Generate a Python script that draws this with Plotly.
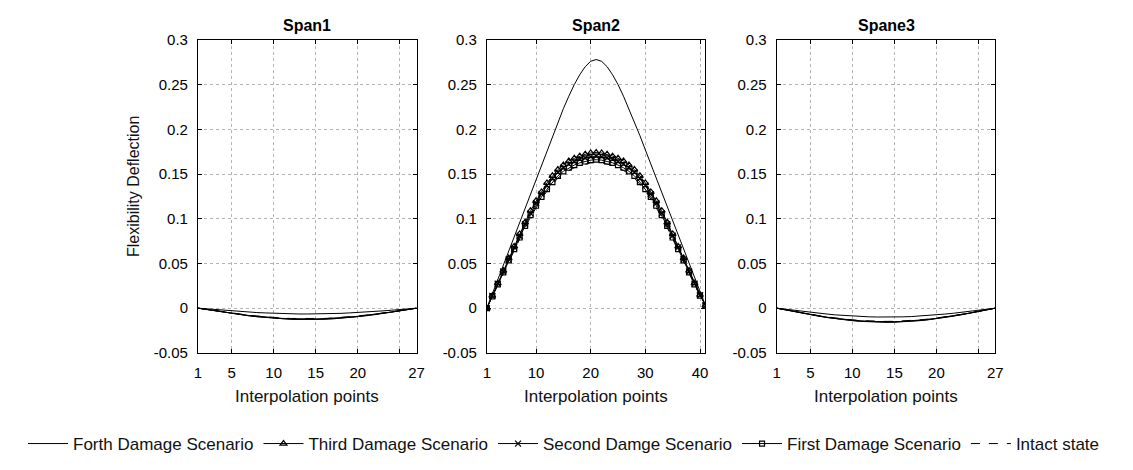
import plotly.graph_objects as go

# ---------------- data ----------------
x_span1 = list(range(1, 28))
x_span2 = list(range(1, 42))
x_span3 = list(range(1, 28))

series_names = ["Forth Damage Scenario", "Third Damage Scenario",
                "Second Damge Scenario", "First Damage Scenario", "Intact state"]

# Span2
span2_forth = [0.0, 0.016, 0.033, 0.049, 0.065, 0.081, 0.097, 0.113, 0.129, 0.145, 0.161,
               0.177, 0.193, 0.208, 0.223, 0.237, 0.250, 0.261, 0.270, 0.276, 0.278,
               0.276, 0.270, 0.261, 0.250, 0.237, 0.223, 0.208, 0.193, 0.177, 0.161,
               0.145, 0.129, 0.113, 0.097, 0.081, 0.065, 0.049, 0.033, 0.017, 0.003]
span2_third = [0.0, 0.014, 0.028, 0.042, 0.056, 0.069, 0.083, 0.096, 0.109, 0.120, 0.130,
               0.140, 0.148, 0.155, 0.160, 0.1645, 0.1675, 0.170, 0.172, 0.1735, 0.174,
               0.1735, 0.172, 0.170, 0.1675, 0.1645, 0.160, 0.155, 0.148, 0.140, 0.130,
               0.120, 0.109, 0.096, 0.083, 0.069, 0.056, 0.042, 0.028, 0.015, 0.003]
span2_second = [0.0, 0.0137, 0.0275, 0.041, 0.0545, 0.068, 0.081, 0.094, 0.106, 0.1175, 0.1275,
                0.137, 0.145, 0.152, 0.157, 0.161, 0.164, 0.1665, 0.168, 0.1695, 0.170,
                0.1695, 0.168, 0.1665, 0.164, 0.161, 0.157, 0.152, 0.145, 0.137, 0.1275,
                0.1175, 0.106, 0.094, 0.081, 0.068, 0.0545, 0.041, 0.0275, 0.0145, 0.003]
span2_first = [0.0, 0.0133, 0.0267, 0.040, 0.0535, 0.066, 0.079, 0.092, 0.104, 0.1145, 0.1245,
               0.133, 0.141, 0.148, 0.153, 0.157, 0.160, 0.1625, 0.164, 0.1655, 0.166,
               0.1655, 0.164, 0.1625, 0.160, 0.157, 0.153, 0.148, 0.141, 0.133, 0.1245,
               0.1145, 0.104, 0.092, 0.079, 0.066, 0.0535, 0.040, 0.0267, 0.014, 0.003]
span2_intact = [0.0, 0.013, 0.026, 0.039, 0.0525, 0.065, 0.0775, 0.090, 0.102, 0.1125, 0.122,
                0.131, 0.1385, 0.1455, 0.150, 0.154, 0.157, 0.1595, 0.161, 0.1625, 0.163,
                0.1625, 0.161, 0.1595, 0.157, 0.154, 0.150, 0.1455, 0.1385, 0.131, 0.122,
                0.1125, 0.102, 0.090, 0.0775, 0.065, 0.0525, 0.039, 0.026, 0.0135, 0.003]

# Span1
span1_forth = [0, -0.0008, -0.0016, -0.0023, -0.0030, -0.0037, -0.0043, -0.0049, -0.0053, -0.0058,
               -0.0061, -0.0063, -0.0065, -0.0065, -0.0065, -0.0063, -0.0061, -0.0058, -0.0053,
               -0.0049, -0.0043, -0.0037, -0.0030, -0.0023, -0.0016, -0.0008, 0]
span1_third = [0, -0.0015, -0.0031, -0.0045, -0.0059, -0.0073, -0.0085, -0.0096, -0.0105, -0.0113,
               -0.0120, -0.0124, -0.0127, -0.0128, -0.0127, -0.0124, -0.0120, -0.0113, -0.0105,
               -0.0096, -0.0085, -0.0073, -0.0059, -0.0045, -0.0031, -0.0015, 0]
span1_second = [0, -0.0015, -0.0030, -0.0044, -0.0058, -0.0071, -0.0083, -0.0094, -0.0103, -0.0111,
                -0.0117, -0.0121, -0.0124, -0.0125, -0.0124, -0.0121, -0.0117, -0.0111, -0.0103,
                -0.0094, -0.0083, -0.0071, -0.0058, -0.0044, -0.0030, -0.0015, 0]
span1_first = [0, -0.0015, -0.0029, -0.0043, -0.0057, -0.0069, -0.0081, -0.0091, -0.0100, -0.0108,
               -0.0114, -0.0118, -0.0121, -0.0122, -0.0121, -0.0118, -0.0114, -0.0108, -0.0100,
               -0.0091, -0.0081, -0.0069, -0.0057, -0.0043, -0.0029, -0.0015, 0]
span1_intact = [0, -0.0014, -0.0028, -0.0042, -0.0055, -0.0067, -0.0078, -0.0088, -0.0097, -0.0104,
                -0.0110, -0.0115, -0.0117, -0.0118, -0.0117, -0.0115, -0.0110, -0.0104, -0.0097,
                -0.0088, -0.0078, -0.0067, -0.0055, -0.0042, -0.0028, -0.0014, 0]

# Span3
span3_forth = [0, -0.0012, -0.0024, -0.0035, -0.0046, -0.0057, -0.0066, -0.0075, -0.0082, -0.0089,
               -0.0094, -0.0097, -0.0099, -0.0100, -0.0099, -0.0097, -0.0094, -0.0089, -0.0082,
               -0.0075, -0.0066, -0.0057, -0.0046, -0.0035, -0.0024, -0.0012, 0]
span3_third = [0, -0.0019, -0.0038, -0.0056, -0.0073, -0.0090, -0.0105, -0.0118, -0.0130, -0.0140,
               -0.0148, -0.0153, -0.0157, -0.0158, -0.0157, -0.0153, -0.0148, -0.0140, -0.0130,
               -0.0118, -0.0105, -0.0090, -0.0073, -0.0056, -0.0038, -0.0019, 0]
span3_second = [0, -0.0019, -0.0037, -0.0055, -0.0072, -0.0088, -0.0103, -0.0116, -0.0128, -0.0137,
                -0.0145, -0.0150, -0.0154, -0.0155, -0.0154, -0.0150, -0.0145, -0.0137, -0.0128,
                -0.0116, -0.0103, -0.0088, -0.0072, -0.0055, -0.0037, -0.0019, 0]
span3_first = [0, -0.0018, -0.0036, -0.0054, -0.0071, -0.0086, -0.0101, -0.0114, -0.0125, -0.0135,
               -0.0142, -0.0148, -0.0151, -0.0152, -0.0151, -0.0148, -0.0142, -0.0135, -0.0125,
               -0.0114, -0.0101, -0.0086, -0.0071, -0.0054, -0.0036, -0.0018, 0]
span3_intact = [0, -0.0018, -0.0035, -0.0052, -0.0069, -0.0084, -0.0098, -0.0111, -0.0122, -0.0131,
                -0.0138, -0.0144, -0.0147, -0.0148, -0.0147, -0.0144, -0.0138, -0.0131, -0.0122,
                -0.0111, -0.0098, -0.0084, -0.0069, -0.0052, -0.0035, -0.0018, 0]

y_tickvals = [-0.05, 0, 0.05, 0.1, 0.15, 0.2, 0.25, 0.3]
y_ticktext = ["-0.05", "0", "0.05", "0.1", "0.15", "0.2", "0.25", "0.3"]
x_tickvals_short = [1, 5, 10, 15, 20, 25, 27]
x_ticktext_short = ["1", "5", "10", "15", "20", "", "27"]
x_tickvals_long = [1, 10, 20, 30, 40]
x_ticktext_long = ["1", "10", "20", "30", "40"]
titles = ["Span1", "Span2", "Spane3"]

# ---------------- figure ----------------
# page body has an 8px margin, so the figure is made 16px smaller and
# reference pixel positions are shifted by 8px
OFF = 8
W, H = 1133 - 2 * OFF, 470 - 2 * OFF

def px(p):
    return (p - OFF) / W

def py(p):
    return 1 - (p - OFF) / H

FONT = "Liberation Sans, Arial, sans-serif"
fig = go.Figure()

styles = [
    dict(mode="lines", marker=None, dash="solid"),
    dict(mode="lines+markers", marker=dict(symbol="triangle-up-open", size=6, color="black",
                                           line=dict(width=1.2, color="black")), dash="solid"),
    dict(mode="lines+markers", marker=dict(symbol="x-thin-open", size=6, color="black",
                                           line=dict(width=1.2, color="black")), dash="solid"),
    dict(mode="lines+markers", marker=dict(symbol="square-open", size=5, color="black",
                                           line=dict(width=1.2, color="black")), dash="solid"),
    dict(mode="lines", marker=None, dash="dash"),
]

span2_sets = [span2_forth, span2_third, span2_second, span2_first, span2_intact]
span1_sets = [span1_forth, span1_third, span1_second, span1_first, span1_intact]
span3_sets = [span3_forth, span3_third, span3_second, span3_first, span3_intact]

for name, ys, st in zip(series_names, span2_sets, styles):
    kw = dict(x=x_span2, y=ys, name=name, mode=st["mode"], xaxis="x2", yaxis="y2",
              line=dict(color="black", width=1, dash=st["dash"]), showlegend=True)
    if st["marker"] is not None:
        kw["marker"] = st["marker"]
    fig.add_trace(go.Scatter(**kw))

for name, ys, st in zip(series_names, span1_sets, styles):
    fig.add_trace(go.Scatter(x=x_span1, y=ys, name=name, mode="lines", xaxis="x", yaxis="y",
                             line=dict(color="black", width=1, dash=st["dash"]), showlegend=False))
for name, ys, st in zip(series_names, span3_sets, styles):
    fig.add_trace(go.Scatter(x=x_span3, y=ys, name=name, mode="lines", xaxis="x3", yaxis="y3",
                             line=dict(color="black", width=1, dash=st["dash"]), showlegend=False))

dom_x = [[px(196), px(417)], [px(488), px(709)], [px(781), px(1002)]]
dom_y = [py(361), py(32)]
ranges = [[1, 27], [1, 41], [1, 27]]

def xax(i):
    long = (i == 1)
    return dict(domain=dom_x[i], range=ranges[i], anchor="y" if i == 0 else f"y{i+1}",
                tickvals=x_tickvals_long if long else x_tickvals_short,
                ticktext=x_ticktext_long if long else x_ticktext_short,
                showline=True, linecolor="black", linewidth=1, mirror="ticks",
                ticks="inside", ticklen=4, tickcolor="black",
                showgrid=True, gridcolor="#b4b4b4", griddash="dot", gridwidth=1,
                zeroline=False, tickfont=dict(size=15, color="black", family=FONT),
                ticklabelstandoff=6)

def yax(i):
    return dict(domain=dom_y, range=[-0.05, 0.3], anchor="x" if i == 0 else f"x{i+1}",
                tickvals=y_tickvals, ticktext=y_ticktext,
                showline=True, linecolor="black", linewidth=1, mirror="ticks",
                ticks="inside", ticklen=4, tickcolor="black",
                showgrid=True, gridcolor="#b4b4b4", griddash="dot", gridwidth=1,
                zeroline=False, tickfont=dict(size=15, color="black", family=FONT),
                ticklabelstandoff=6)

annotations = []
centers = [(d[0] + d[1]) / 2 for d in dom_x]
for c, t in zip(centers, titles):
    annotations.append(dict(text=f"<b>{t}</b>", x=c, y=py(17), xref="paper", yref="paper",
                            showarrow=False, xanchor="center", yanchor="middle",
                            font=dict(size=16, color="black", family=FONT)))
    annotations.append(dict(text="Interpolation points", x=c, y=py(407), xref="paper",
                            yref="paper", showarrow=False, xanchor="center", yanchor="middle",
                            font=dict(size=17, color="#111", family=FONT)))
annotations.append(dict(text="Flexibility Deflection", x=px(131), y=py(186), xref="paper",
                        yref="paper", showarrow=False, textangle=-90, xanchor="center",
                        yanchor="middle", font=dict(size=16, color="#111", family=FONT)))

fig.update_layout(
    width=W, height=H,
    margin=dict(l=0, r=0, t=0, b=0),
    paper_bgcolor="white", plot_bgcolor="white",
    font=dict(family=FONT, color="black"),
    xaxis=xax(0), xaxis2=xax(1), xaxis3=xax(2),
    yaxis=yax(0), yaxis2=yax(1), yaxis3=yax(2),
    annotations=annotations,
    legend=dict(orientation="h", x=px(566), xanchor="center", y=py(457), yanchor="middle",
                font=dict(size=17, color="#111", family=FONT), bgcolor="rgba(0,0,0,0)",
                itemwidth=40, tracegroupgap=0),
)

fig.write_html("out.html")
